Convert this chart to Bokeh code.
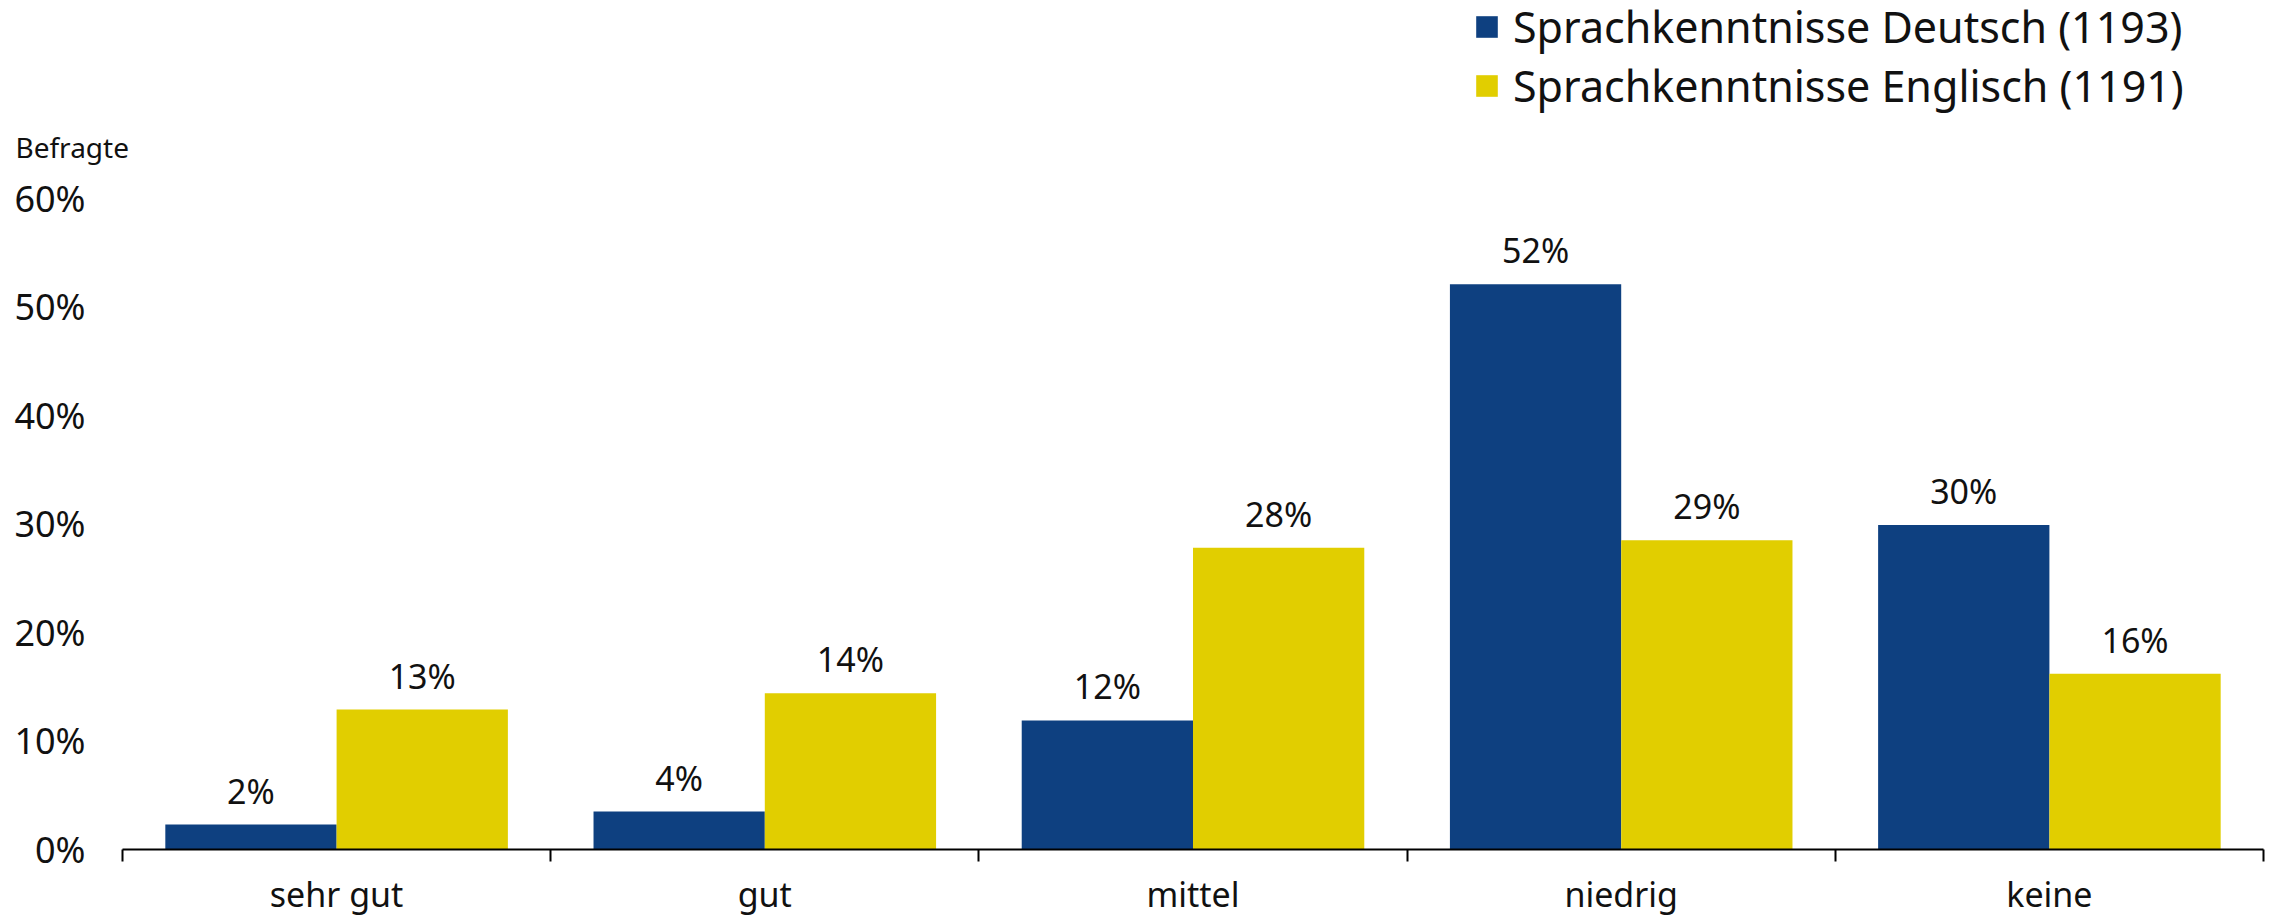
from bokeh.plotting import figure
from bokeh.layouts import column
from bokeh.models import ColumnDataSource, FixedTicker, LabelSet, Legend, LegendItem, Range1d
from bokeh.transform import dodge
from bokeh.embed import file_html
from bokeh.resources import INLINE
from bokeh.core.properties import value

# ---- data ----
categories = ["sehr gut", "gut", "mittel", "niedrig", "keine"]
deutsch = [2.3, 3.5, 11.9, 52.1, 29.9]
englisch = [12.9, 14.4, 27.8, 28.5, 16.2]
deutsch_labels = ["2%", "4%", "12%", "52%", "30%"]
englisch_labels = ["13%", "14%", "28%", "29%", "16%"]
series_names = ["Sprachkenntnisse Deutsch (1193)", "Sprachkenntnisse Englisch (1191)"]
y_ticks = [0, 10, 20, 30, 40, 50, 60]
y_tick_labels = ["0%", "10%", "20%", "30%", "40%", "50%", "60%"]
y_title = "Befragte"

BLUE = "#0e4080"
YELLOW = "#e1ce00"
FONT = "Noto Sans"
TXT = "#111111"
W = 2275
TOP_H = 165

pos = [i + 0.5 for i in range(len(categories))]
source = ColumnDataSource(dict(pos=pos, de=deutsch, en=englisch,
                               de_lbl=deutsch_labels, en_lbl=englisch_labels))

# ---- header strip: legend + y title ----
head = figure(width=W, height=TOP_H, x_range=Range1d(0, len(categories)), y_range=Range1d(100, 200),
              output_backend="svg", toolbar_location=None, title=y_title, title_location="below",
              x_axis_location=None, y_axis_location=None,
              min_border_left=122, min_border_right=12, min_border_top=0, min_border_bottom=0)
head.outline_line_color = None
head.xgrid.visible = False
head.ygrid.visible = False
head.title.align = "left"
head.title.offset = -107
head.title.standoff = 0
head.title.text_font = FONT
head.title.text_font_size = "28px"
head.title.text_font_style = "normal"
head.title.text_color = TXT
h1 = head.vbar(x=dodge("pos", -0.2), top="de", width=0.4, source=source,
               fill_color=BLUE, line_color=None, visible=False)
h2 = head.vbar(x=dodge("pos", 0.2), top="en", width=0.4, source=source,
               fill_color=YELLOW, line_color=None, visible=False)
legend = Legend(items=[LegendItem(label=series_names[0], renderers=[h1]),
                       LegendItem(label=series_names[1], renderers=[h2])],
                location=(1351, 10), glyph_width=27, glyph_height=27,
                label_text_font=FONT, label_text_font_size="43px", label_text_color=TXT,
                label_height=57, spacing=0, padding=0, margin=0, label_standoff=13,
                border_line_color=None, background_fill_alpha=0,
                inactive_fill_alpha=0)
head.add_layout(legend)

# ---- main chart ----
p = figure(width=W, height=919 - TOP_H, x_range=Range1d(0, len(categories)),
           y_range=Range1d(0, 63.04), output_backend="svg", toolbar_location=None,
           min_border_left=122, min_border_right=12, min_border_top=0, min_border_bottom=70)
p.outline_line_color = None
p.xgrid.visible = False
p.ygrid.visible = False

p.vbar(x=dodge("pos", -0.2), top="de", width=0.4, source=source,
       fill_color=BLUE, line_color=None)
p.vbar(x=dodge("pos", 0.2), top="en", width=0.4, source=source,
       fill_color=YELLOW, line_color=None)

for xoff, col, ycol in [(-0.2, "de_lbl", "de"), (0.2, "en_lbl", "en")]:
    p.add_layout(LabelSet(x=dodge("pos", xoff), y=ycol, text=col, source=source,
                          text_align="center", text_baseline="alphabetic", y_offset=21,
                          text_font=value(FONT), text_font_size="34px", text_color=TXT))

# x axis
xa = p.xaxis[0]
xa.ticker = FixedTicker(ticks=pos, minor_ticks=list(range(len(categories) + 1)))
xa.major_label_overrides = {pv: c for pv, c in zip(pos, categories)}
xa.major_tick_line_color = None
xa.major_tick_out = 0
xa.major_tick_in = 0
xa.minor_tick_out = 12
xa.minor_tick_in = 0
xa.minor_tick_line_color = "black"
xa.minor_tick_line_width = 2
xa.axis_line_color = "black"
xa.axis_line_width = 2
xa.major_label_standoff = 9
xa.major_label_text_font = FONT
xa.major_label_text_font_size = "34px"
xa.major_label_text_color = TXT

# y axis
ya = p.yaxis[0]
ya.ticker = FixedTicker(ticks=y_ticks)
ya.major_label_overrides = {t: l for t, l in zip(y_ticks, y_tick_labels)}
ya.axis_line_color = None
ya.major_tick_line_color = None
ya.minor_tick_line_color = None
ya.major_tick_out = 0
ya.major_tick_in = 0
ya.major_label_standoff = 37
ya.major_label_text_font = FONT
ya.major_label_text_font_size = "36px"
ya.major_label_text_color = TXT

layout = column(head, p, spacing=0)
open("out.html", "w").write(file_html(layout, INLINE))
